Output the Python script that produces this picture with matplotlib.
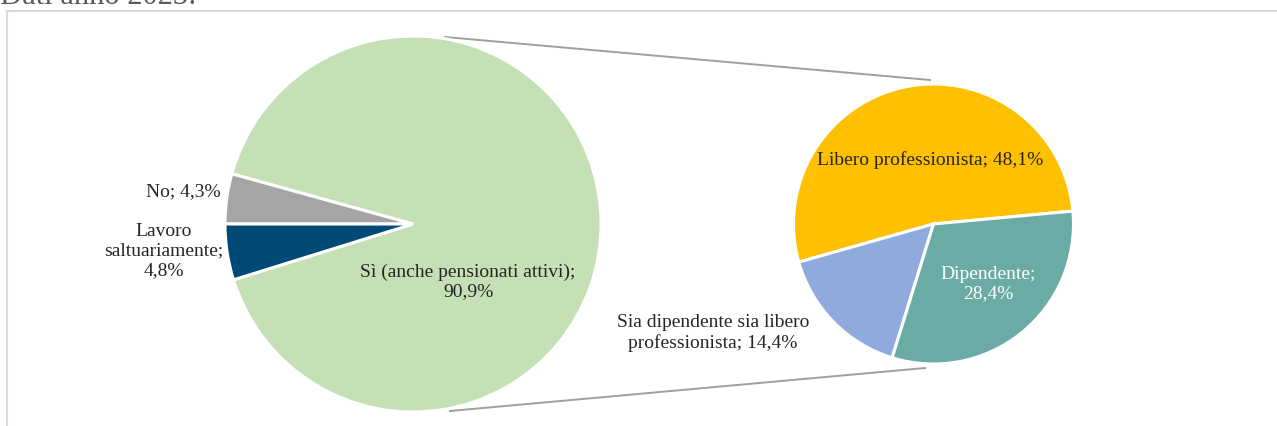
import matplotlib
matplotlib.use("Agg")
import matplotlib.pyplot as plt

plt.rcParams['font.family'] = ['Liberation Serif', 'DejaVu Serif']

# Main pie: working status
main_labels = ["Sì (anche pensionati attivi);\n90,9%", "No; 4,3%", "Lavoro\nsaltuariamente;\n4,8%"]
main_values = [90.9, 4.3, 4.8]
main_colors = ["#C5E0B4", "#A5A5A5", "#004A75"]

# Breakdown of "Sì"
sub_labels = ["Libero professionista; 48,1%", "Sia dipendente sia libero\nprofessionista; 14,4%", "Dipendente;\n28,4%"]
sub_values = [48.1, 14.4, 28.4]
sub_colors = ["#FFC000", "#8FAADC", "#6AABA5"]

W, H = 1277, 426
fig = plt.figure(figsize=(W / 100, H / 100), dpi=100)
ax = fig.add_axes([0, 0, 1, 1])

# small slices centred on the left side
start_main = 180 + main_values[2] / sum(main_values) * 360

c1, r1 = (413, H - 224), 188
ax.pie(main_values, colors=main_colors, startangle=start_main, counterclock=True,
       center=c1, radius=r1, frame=True,
       wedgeprops=dict(edgecolor='white', linewidth=2.2))

c2, r2 = (933.5, H - 224), 140
ax.pie(sub_values, colors=sub_colors, startangle=5.3, counterclock=True,
       center=c2, radius=r2, frame=True,
       wedgeprops=dict(edgecolor='white', linewidth=2.2))
ax.set_xlim(0, W)
ax.set_ylim(0, H)
ax.set_aspect('equal')
ax.axis('off')

# connector lines
ax.plot([445, 930], [H - 37, H - 80], color='#9E9E9E', lw=1.4, zorder=0)
ax.plot([450, 925], [H - 411, H - 368], color='#9E9E9E', lw=1.4, zorder=0)

# chart frame (top and left edges visible)
ax.plot([7, W], [H - 10.5, H - 10.5], color='#D9D9D9', lw=1.5, clip_on=False)
ax.plot([7, 7], [H - 10.5, 0], color='#D9D9D9', lw=1.5, clip_on=False)

fs = 14
tc = '#262626'
ls = 1.2
ax.text(468, H - 282, main_labels[0], ha='center', va='center', fontsize=fs, color=tc, linespacing=ls)
ax.text(221, H - 192, main_labels[1], ha='right', va='center', fontsize=fs, color=tc)
ax.text(164, H - 251, main_labels[2], ha='center', va='center', fontsize=fs, color=tc, linespacing=ls)

ax.text(930, H - 160, sub_labels[0], ha='center', va='center', fontsize=fs, color=tc)
ax.text(713, H - 333, sub_labels[1], ha='center', va='center', fontsize=fs, color=tc, linespacing=ls)
ax.text(988, H - 284, sub_labels[2], ha='center', va='center', fontsize=fs, color='white', linespacing=ls)

ax.text(0, H - 4, "Dati anno 2023:", ha='left', va='baseline', fontsize=22, color='#595959')

fig.savefig("out.png", dpi=100)
